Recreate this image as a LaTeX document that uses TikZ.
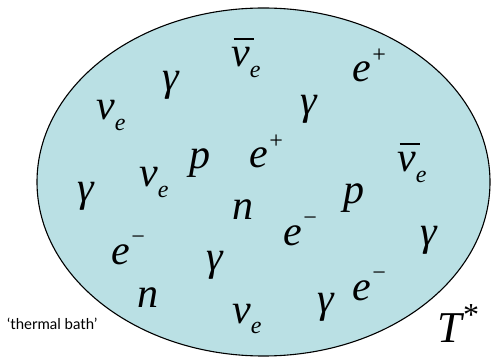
\documentclass[tikz,border=0pt]{standalone}
\usepackage{fontspec}
\setmainfont{Liberation Serif}
\newfontfamily\bathfont{Lato}
\definecolor{bathblue}{HTML}{BAE0E4}
\newcommand\mysub[1]{\raisebox{-0.26em}{\fontsize{24}{24}\selectfont\itshape #1}}
\newcommand\mysup[1]{\raisebox{0.46em}{\fontsize{24}{24}\selectfont #1}}
\newcommand\mystar{\raisebox{0.38em}{\fontsize{32}{32}\selectfont *}}
\newcommand\mybarnu{\makebox[0pt][l]{\hspace{0.06em}\rule[0.64em]{0.48em}{0.05em}}ν}
\begin{document}
\begin{tikzpicture}[x=1pt,y=-1pt,
  ptcl/.style={anchor=base west,inner sep=0pt,font=\fontsize{42}{44}\selectfont\itshape}]
\useasboundingbox (0,0) rectangle (492,363);
\draw[fill=bathblue,line width=1.1pt] (263.5,182) ellipse [x radius=226.5,y radius=174];
\node[ptcl] (n1) at (96,120) {ν\mysub{e}};
\node[ptcl] (n2) at (162,91) {γ};
\node[ptcl] (n3) at (231,67) {\mybarnu\mysub{e}};
\node[ptcl] (n4) at (352,82) {e\mysup{+}};
\node[ptcl] (n5) at (300,115) {γ};
\node[ptcl] (n6) at (249,168) {e\mysup{+}};
\node[ptcl] (n7) at (397,172) {\mybarnu\mysub{e}};
\node[ptcl] (n8) at (77,202) {γ};
\node[ptcl] (n9) at (139,187) {ν\mysub{e}};
\node[ptcl] (n10) at (189,169) {p};
\node[ptcl] (n11) at (232,220) {n};
\node[ptcl] (n12) at (343,204) {p};
\node[ptcl] (n13) at (283,245) {e\mysup{−}};
\node[ptcl] (n14) at (420,245) {γ};
\node[ptcl] (n15) at (111,264) {e\mysup{−}};
\node[ptcl] (n16) at (206,270) {γ};
\node[ptcl] (n17) at (137,307) {n};
\node[ptcl] (n18) at (232,323) {ν\mysub{e}};
\node[ptcl] (n19) at (317,312) {γ};
\node[ptcl] (n20) at (352,300) {e\mysup{−}};
\node[ptcl,font=\fontsize{44}{46}\selectfont\itshape] (n21) at (437,342) {T\mystar};
\node[anchor=base west,inner sep=0pt,font=\bathfont\fontsize{15}{17}\selectfont] (lbl) at (7,329) {‘thermal bath’};
\end{tikzpicture}
\end{document}
